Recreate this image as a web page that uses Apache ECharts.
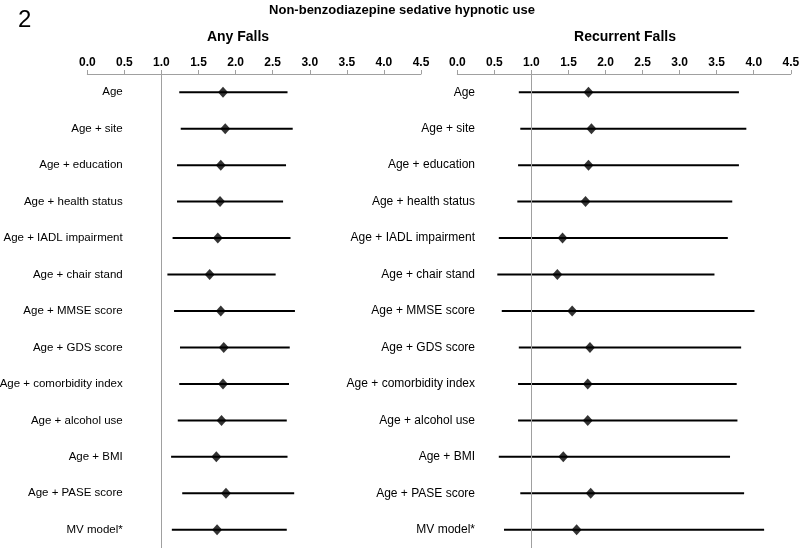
<!DOCTYPE html>
<html>
<head>
<meta charset="utf-8">
<script src="https://cdn.jsdelivr.net/npm/echarts@6/dist/echarts.min.js"></script>
<style>html,body{margin:0;padding:0;background:#fff}#c{width:800px;height:548px}</style>
</head>
<body>
<div id="c"></div>
<script>
var categories = ['Age','Age + site','Age + education','Age + health status','Age + IADL impairment','Age + chair stand','Age + MMSE score','Age + GDS score','Age + comorbidity index','Age + alcohol use','Age + BMI','Age + PASE score','MV model*'];
var anyEst  = [1.83,1.86,1.80,1.79,1.76,1.65,1.80,1.84,1.83,1.81,1.74,1.87,1.75];
var anyLow  = [1.24,1.26,1.21,1.21,1.15,1.08,1.17,1.25,1.24,1.22,1.13,1.28,1.14];
var anyHigh = [2.70,2.77,2.68,2.64,2.74,2.54,2.80,2.73,2.72,2.69,2.70,2.79,2.69];
var recEst  = [1.77,1.81,1.77,1.73,1.42,1.35,1.55,1.79,1.76,1.76,1.43,1.80,1.61];
var recLow  = [0.83,0.85,0.82,0.81,0.56,0.54,0.60,0.83,0.82,0.82,0.56,0.85,0.63];
var recHigh = [3.80,3.90,3.80,3.71,3.65,3.47,4.01,3.83,3.77,3.78,3.68,3.87,4.14];
var xTicks = ['0.0','0.5','1.0','1.5','2.0','2.5','3.0','3.5','4.0','4.5'];

var FONT = '"Liberation Sans", Arial, sans-serif';
var chart = echarts.init(document.getElementById('c'), null, {renderer:'canvas'});

function xAxisDef(gi){
  return {
    gridIndex: gi, type:'value', position:'top', min:0, max:4.5, interval:0.5,
    axisLine:{show:true, lineStyle:{color:'#a0a0a0', width:1}},
    axisTick:{show:true, length:4, lineStyle:{color:'#a0a0a0'}},
    splitLine:{show:false},
    axisLabel:{margin:5, color:'#000', fontWeight:'bold', fontSize:12, fontFamily:FONT,
      formatter:function(v){ return xTicks[Math.round(v/0.5)]; }}
  };
}
function yAxisDef(gi, margin, fs){
  return {
    gridIndex: gi, type:'category', data:categories, inverse:true,
    axisLine:{show:false}, axisTick:{show:false}, splitLine:{show:false},
    axisLabel:{margin:margin, color:'#000', fontSize:fs, fontFamily:FONT}
  };
}
function barSeries(gi, low, high){
  return {
    type:'custom', xAxisIndex:gi, yAxisIndex:gi,
    data: categories.map(function(c,i){ return [low[i], high[i], i]; }),
    encode:{x:[0,1], y:2},
    renderItem:function(params, api){
      var a = api.coord([api.value(0), api.value(2)]);
      var b = api.coord([api.value(1), api.value(2)]);
      return {type:'line', shape:{x1:a[0], y1:a[1], x2:b[0], y2:b[1]},
        style:{stroke:'#000', lineWidth:2}};
    },
    silent:true, z:3
  };
}
function ptSeries(gi, est){
  return {
    type:'scatter', xAxisIndex:gi, yAxisIndex:gi,
    data: categories.map(function(c,i){ return [est[i], i]; }),
    symbol:'diamond', symbolSize:[10,11],
    itemStyle:{color:'#000'}, silent:true, z:4,
    markLine:{silent:true, symbol:'none', label:{show:false},
      lineStyle:{color:'#a0a0a0', width:1, type:'solid'},
      data:[{xAxis:1}]}
  };
}

chart.setOption({
  animation:false,
  backgroundColor:'#fff',
  title:[
    {text:'2', left:13, top:3, textStyle:{fontSize:24, fontWeight:'normal', color:'#000', fontFamily:FONT}},
    {text:'Non-benzodiazepine sedative hypnotic use', left:397, top:-1, textAlign:'center',
      textStyle:{fontSize:13, fontWeight:'bold', color:'#000', fontFamily:FONT}},
    {text:'Any Falls', left:233, top:25, textAlign:'center',
      textStyle:{fontSize:14, fontWeight:'bold', color:'#000', fontFamily:FONT}},
    {text:'Recurrent Falls', left:620, top:25, textAlign:'center',
      textStyle:{fontSize:14, fontWeight:'bold', color:'#000', fontFamily:FONT}}
  ],
  grid:[
    {left:87.3, right:379, top:74, bottom:0, containLabel:false, outerBoundsMode:'none'},
    {left:457.3, right:9.2, top:74, bottom:0, containLabel:false, outerBoundsMode:'none'}
  ],
  xAxis:[xAxisDef(0), xAxisDef(1)],
  yAxis:[yAxisDef(0,-35.4,11.5), yAxisDef(1,-17.7,12)],
  series:[
    barSeries(0, anyLow, anyHigh), ptSeries(0, anyEst),
    barSeries(1, recLow, recHigh), ptSeries(1, recEst)
  ]
});
</script>
</body>
</html>
